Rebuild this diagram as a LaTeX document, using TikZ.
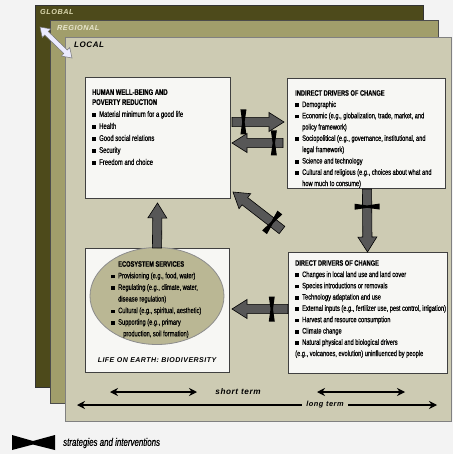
\documentclass[tikz,border=0pt]{standalone}
\usepackage{fontspec}
\setmainfont{Liberation Sans}
\newfontfamily\cond[FakeStretch=0.72,FakeBold=0.6]{Liberation Sans}
\newfontfamily\spaced[LetterSpace=7]{Liberation Sans}
\usetikzlibrary{calc,shapes.geometric,arrows.meta}
\definecolor{bgc}{HTML}{F3F3F3}
\definecolor{globc}{HTML}{4D4A1B}
\definecolor{regc}{HTML}{A19E6B}
\definecolor{locc}{HTML}{CDCBB3}
\definecolor{boxc}{HTML}{F7F7F4}
\definecolor{ellc}{HTML}{BAB794}
\definecolor{arrc}{HTML}{575757}
\definecolor{globtxt}{HTML}{DAD7AE}
\definecolor{regtxt}{HTML}{E8E6CC}
\newcommand\sq{\makebox[7pt][l]{\rule{3.6pt}{3.6pt}}}
\newcommand\ind{\hspace*{7pt}}
\newcommand\blockarrow[2]{%
  \coordinate (ba-h) at ($(#2)!15pt!(#1)$);
  \filldraw[blockarr] ($(#1)!4.6pt!90:(#2)$) -- ($(ba-h)!4.6pt!90:(#2)$) -- ($(ba-h)!9.5pt!90:(#2)$) -- (#2)
    -- ($(ba-h)!9.5pt!-90:(#2)$) -- ($(ba-h)!4.6pt!-90:(#2)$) -- ($(#1)!4.6pt!-90:(#2)$) -- cycle;}
\newcommand\stratmark[3]{%
  \coordinate (mk-m) at ($(#1)!#3!(#2)$);
  \coordinate (mk-f) at ($(mk-m)!3pt!(#2)$);
  \coordinate (mk-b) at ($(mk-m)!3pt!(#1)$);
  \fill[black] ($(mk-b)!12.5pt!90:(#2)$) -- ($(mk-f)!12.5pt!90:(#2)$) -- ($(mk-m)!1.2pt!(#2)$)
    -- ($(mk-f)!12.5pt!-90:(#2)$) -- ($(mk-b)!12.5pt!-90:(#2)$) -- ($(mk-m)!1.2pt!(#1)$) -- cycle;}
\begin{document}
\begin{tikzpicture}[x=1pt,y=-1pt,
  frame/.style={draw=#1, line width=0.6pt, anchor=north west, inner sep=0pt, outer sep=0pt},
  box/.style={draw=black!75, line width=0.9pt, fill=boxc, anchor=north west, inner sep=0pt, outer sep=0pt},
  txt/.style={anchor=north west, inner sep=0pt, align=left, font=\cond\fontsize{7.9}{11.3}\selectfont},
  blockarr/.style={fill=arrc, draw=black, line width=0.6pt, line join=miter},
  termarr/.style={line width=1.1pt, {Stealth[length=8pt,width=8pt]}-{Stealth[length=8pt,width=8pt]}},
  scopelab/.style={anchor=north west, inner sep=0pt, font=\spaced\bfseries\itshape\fontsize{7.3}{9}\selectfont}]
\useasboundingbox (0,0) rectangle (453,454);
\fill[bgc] (0,0) rectangle (453,454);
% scale frames
\node[frame=black!80, fill=globc, minimum width=388pt, minimum height=382pt] (global) at (35,5) {};
\node[frame=black!70, fill=regc, minimum width=388pt, minimum height=383pt] (regional) at (50,20) {};
\node[frame=black!50, fill=locc, minimum width=386pt, minimum height=384pt] (local) at (65,37) {};
\node[scopelab, text=globtxt] (globlab) at (40,9) {GLOBAL};
\node[scopelab, text=regtxt] (reglab) at (57,25) {REGIONAL};
\node[scopelab, text=black, font=\spaced\bfseries\itshape\fontsize{8}{9}\selectfont] (loclab) at (74,42) {LOCAL};
% scale double arrow
\coordinate (sc1) at ($(global.north west)+(5,22)$);
\coordinate (sc2) at ($(local.north west)+(7,21)$);
\coordinate (sch1) at ($(sc1)!9pt!(sc2)$);
\coordinate (sch2) at ($(sc2)!9pt!(sc1)$);
\filldraw[fill=white!92!blue, draw=black!55, line width=0.5pt]
  (sc1) -- ($(sch1)!6pt!90:(sc2)$) -- ($(sch1)!2.5pt!90:(sc2)$) -- ($(sch2)!2.5pt!-90:(sc1)$)
  -- ($(sch2)!6pt!-90:(sc1)$) -- (sc2) -- ($(sch2)!6pt!90:(sc1)$) -- ($(sch2)!2.5pt!90:(sc1)$)
  -- ($(sch1)!2.5pt!-90:(sc2)$) -- ($(sch1)!6pt!-90:(sc2)$) -- cycle;
% boxes
\node[box, minimum width=145pt, minimum height=121pt] (hwb) at (85,77) {};
\node[box, minimum width=158pt, minimum height=110pt] (ind) at (287,78) {};
\node[box, minimum width=144pt, minimum height=124pt] (eco) at (85,248) {};
\node[box, minimum width=159pt, minimum height=121pt] (dir) at (288,252) {};
\node[ellipse, draw=black!45, line width=0.8pt, fill=ellc, minimum width=134pt, minimum height=97pt, inner sep=0pt] (es) at (157,296) {};
% texts
\node[txt, font=\cond\fontsize{8.2}{12}\selectfont] (hwbtxt) at (92,89) {\textbf{HUMAN WELL-BEING AND}\\[-2pt]
\textbf{POVERTY REDUCTION}\\
\sq Material minimum for a good life\\
\sq Health\\
\sq Good social relations\\
\sq Security\\
\sq Freedom and choice};
\node[txt] (indtxt) at (295,90) {\textbf{INDIRECT DRIVERS OF CHANGE}\\
\sq Demographic\\
\sq Economic (e.g., globalization, trade, market, and\\
\ind policy framework)\\
\sq Sociopolitical (e.g., governance, institutional, and\\
\ind legal framework)\\
\sq Science and technology\\
\sq Cultural and religious (e.g., choices about what and\\
\ind how much to consume)};
\node[txt] (dirtxt) at (295,260) {\textbf{DIRECT DRIVERS OF CHANGE}\\
\sq Changes in local land use and land cover\\
\sq Species introductions or removals\\
\sq Technology adaptation and use\\
\sq External inputs (e.g., fertilizer use, pest control, irrigation)\\
\sq Harvest and resource consumption\\
\sq Climate change\\
\sq Natural physical and biological drivers\\
(e.g., volcanoes, evolution) uninfluenced by people};
\node[txt, font=\cond\fontsize{7.9}{11.6}\selectfont] (ecotxt) at (111,261) {\ind\textbf{ECOSYSTEM SERVICES}\\
\sq Provisioning (e.g., food, water)\\
\sq Regulating (e.g., climate, water,\\
\ind disease regulation)\\
\sq Cultural (e.g., spiritual, aesthetic)\\
\sq Supporting (e.g., primary\\
\ind\hspace*{5pt}production, soil formation)};
\node[anchor=base, inner sep=0pt, font=\spaced\bfseries\itshape\fontsize{7}{9}\selectfont] (biolab) at ($(eco.south)+(0,-10)$) {LIFE ON EARTH: BIODIVERSITY};
% block arrows
\coordinate (a1s) at (eco.north);
\coordinate (a1e) at ($(hwb.south)+(0,5)$);
\coordinate (a2s) at ($(hwb.north east)+(2,45)$);
\coordinate (a2e) at ($(ind.north west)+(-3,44)$);
\coordinate (a3s) at ($(ind.north west)+(-4,65)$);
\coordinate (a3e) at ($(hwb.north east)+(2,66)$);
\coordinate (a4s) at ($(dir.north west)+(-6,-22)$);
\coordinate (a4e) at ($(hwb.south east)+(3,-6)$);
\coordinate (a5s) at ($(ind.south)+(1,1)$);
\coordinate (a5e) at (dir.north);
\coordinate (a6s) at ($(dir.west)+(0,-3.5)$);
\coordinate (a6e) at ($(eco.east)+(3,-1)$);
\blockarrow{a1s}{a1e}
\blockarrow{a2s}{a2e}\stratmark{a2s}{a2e}{0.22}
\blockarrow{a3s}{a3e}\stratmark{a3s}{a3e}{0.18}
\blockarrow{a4s}{a4e}\stratmark{a4s}{a4e}{0.2}
\blockarrow{a5s}{a5e}\stratmark{a5s}{a5e}{0.28}
\blockarrow{a6s}{a6e}\stratmark{a6s}{a6e}{0.29}
% time scale arrows
\coordinate (st1) at (110,392); \coordinate (st2) at (197,392);
\coordinate (st3) at (317,392); \coordinate (st4) at (405,392);
\coordinate (lt1) at (77,405); \coordinate (lt2) at (437,405);
\draw[termarr] (st1) -- (st2);
\draw[termarr] (st3) -- (st4);
\draw[termarr] (lt1) -- (lt2);
\node[inner sep=0pt, font=\spaced\bfseries\itshape\fontsize{8.2}{9}\selectfont] (stlab) at (238,392) {short term};
\node[fill=locc, inner xsep=4pt, inner ysep=1pt, font=\spaced\bfseries\itshape\fontsize{7.4}{9}\selectfont] (ltlab) at (325,405) {long term};
% legend
\fill[black] (12,435) -- (33,441) -- (55,435) -- (55,450) -- (33,444.5) -- (12,450) -- cycle;
\node[anchor=west, inner sep=0pt, font=\cond\itshape\fontsize{11}{12}\selectfont] (legtxt) at (63,443) {strategies and interventions};
\end{tikzpicture}
\end{document}
